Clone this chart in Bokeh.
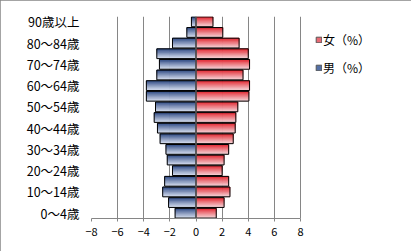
from bokeh.plotting import figure
from bokeh.models import (FixedTicker, Span, Legend, LegendItem, InlineStyleSheet)
from bokeh.embed import file_html
from bokeh.resources import INLINE

# ---- data ----
age_groups = ["0～4歳", "5～9歳", "10～14歳", "15～19歳", "20～24歳", "25～29歳",
              "30～34歳", "35～39歳", "40～44歳", "45～49歳", "50～54歳", "55～59歳",
              "60～64歳", "65～69歳", "70～74歳", "75～79歳", "80～84歳", "85～89歳",
              "90歳以上"]
male = [1.6, 2.1, 2.55, 2.4, 1.8, 2.2, 2.3, 2.75, 2.95, 3.2, 3.1, 3.8,
        3.8, 3.0, 2.8, 3.0, 1.8, 0.7, 0.35]
female = [1.55, 2.15, 2.6, 2.5, 2.0, 2.15, 2.5, 2.85, 3.0, 3.05, 3.2, 4.05,
          4.1, 3.6, 4.1, 4.0, 3.3, 2.05, 1.3]
x_ticks = [-8, -6, -4, -2, 0, 2, 4, 6, 8]

ypos = list(range(len(age_groups)))
male_neg = [-v for v in male]

# frame spans x 91..409; -8..8 occupies 91..300 (legend sits right of 8)
x_end = -8 + 318 / (209 / 16)
p = figure(width=411, height=251, output_backend="svg", toolbar_location=None,
           x_range=(-8, x_end), y_range=(-0.5, len(age_groups) - 0.5),
           min_border_left=91, min_border_right=2, min_border_top=16,
           min_border_bottom=33)
p.outline_line_color = None
p.background_fill_color = "white"
p.border_fill_color = "white"
p.stylesheets = [InlineStyleSheet(
    css=":host { outline: 1px solid #868686 !important; outline-offset: -1px; }")]

# grid
p.xgrid.ticker = FixedTicker(ticks=[t for t in x_ticks if t != 0])
p.xgrid.grid_line_color = "#868686"
p.xgrid.grid_line_width = 1
p.ygrid.grid_line_color = None

# x axis
p.xaxis.ticker = FixedTicker(ticks=x_ticks)
p.xaxis.bounds = (-8, 8)
p.xaxis.axis_line_color = "#868686"
p.xaxis.major_tick_line_color = "#868686"
p.xaxis.major_tick_out = 3
p.xaxis.major_tick_in = 0
p.xaxis.minor_tick_line_color = None
p.xaxis.major_label_standoff = 6
p.xaxis.major_label_text_font = "Noto Sans CJK JP"
p.xaxis.major_label_text_font_size = "11px"
p.xaxis.major_label_text_color = "black"

# y axis
p.yaxis.ticker = FixedTicker(ticks=ypos[::2])
p.yaxis.major_label_overrides = {i: age_groups[i] for i in ypos[::2]}
p.yaxis.axis_line_color = None
p.yaxis.major_tick_line_color = None
p.yaxis.minor_tick_line_color = None
p.yaxis.major_tick_out = 0
p.yaxis.major_tick_in = 0
p.yaxis.major_label_standoff = 12
p.yaxis.major_label_text_font = "Noto Sans CJK JP"
p.yaxis.major_label_text_font_size = "12.5px"
p.yaxis.major_label_text_color = "black"


def hexc(c):
    return tuple(int(c[i:i + 2], 16) for i in (1, 3, 5))


def interp(c1, c2, t):
    a, b = hexc(c1), hexc(c2)
    return "#%02x%02x%02x" % tuple(round(a[i] + (b[i] - a[i]) * t) for i in range(3))


h = 0.92
N = 12
blue_top, blue_bot = "#1c3a78", "#d4dcee"
red_top, red_bot = "#e0141e", "#f6d2d6"
for k in range(N):
    t = (k + 0.5) / N
    off = h / 2 - (k + 0.5) * h / N
    ys = [y + off for y in ypos]
    cb = interp(blue_top, blue_bot, t ** 0.9)
    cr = interp(red_top, red_bot, t ** 0.9)
    p.hbar(y=ys, left=0, right=male_neg, height=h / N, fill_color=cb,
           line_color=cb, line_width=0.6)
    p.hbar(y=ys, left=0, right=female, height=h / N, fill_color=cr,
           line_color=cr, line_width=0.6)

p.hbar(y=ypos, left=0, right=male_neg, height=h, fill_alpha=0,
       line_color="black", line_width=1)
p.hbar(y=ypos, left=0, right=female, height=h, fill_alpha=0,
       line_color="black", line_width=1)

p.add_layout(Span(location=0, dimension="height", line_color="#868686",
                  line_width=1))

# legend proxies (not drawn in the plot; only their legend swatches)
rf = p.quad(left=[0], right=[0], top=[0], bottom=[0], fill_color="#e96a74",
            line_color="#555555", visible=False)
rm = p.quad(left=[0], right=[0], top=[0], bottom=[0], fill_color="#5470a6",
            line_color="#555555", visible=False)
legend = Legend(items=[LegendItem(label="女（%）", renderers=[rf]),
                       LegendItem(label="男（%）", renderers=[rm])],
                location=(224, 142), padding=0, margin=0,
                border_line_color=None, background_fill_alpha=0,
                glyph_width=7, glyph_height=7, label_standoff=1,
                label_height=14, spacing=11,
                label_text_font="Noto Sans CJK JP", label_text_font_size="12px",
                label_text_color="black")
p.add_layout(legend)

open("out.html", "w").write(file_html(p, INLINE))
